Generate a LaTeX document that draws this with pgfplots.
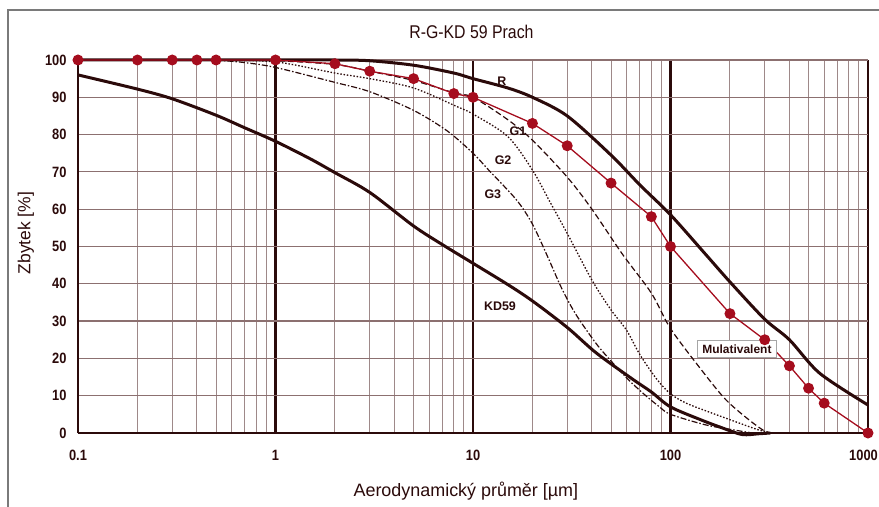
\documentclass[border=0pt]{standalone}
\usepackage{fontspec}
\setmainfont{Liberation Sans}
\newfontfamily\narrowfont{Liberation Sans}[FakeStretch=0.86]
\usepackage{pgfplots}
\pgfplotsset{compat=1.18}

\definecolor{axdark}{HTML}{2B0A0A}
\definecolor{gridc}{HTML}{8C7070}
\definecolor{minorc}{HTML}{9E8989}
\definecolor{redc}{HTML}{A50D1E}
\definecolor{framec}{HTML}{7A7A7A}

\begin{document}
\begin{tikzpicture}
\useasboundingbox (0bp,0bp) rectangle (879bp,507bp);
\draw[framec, line width=1.5bp] (8bp,0bp) -- (8bp,497bp) -- (879bp,497bp);
\begin{axis}[
  at={(78bp,74bp)}, anchor=south west,
  scale only axis, width=790bp, height=373bp,
  xmode=log, xmin=0.1, xmax=1000, ymin=0, ymax=100,
  clip=false,
  xtick={0.1,1,10,100,1000},
  xticklabels={0.1,1,10,100,{\kern-9bp 1000}},
  minor xtick={0.2,0.3,0.4,0.5,0.6,0.7,0.8,0.9,2,3,4,5,6,7,8,9,20,30,40,50,60,70,80,90,200,300,400,500,600,700,800,900},
  ytick={0,10,...,100},
  major tick length=0, minor tick length=0,
  xmajorgrids, xminorgrids, ymajorgrids,
  major x grid style={axdark, line width=2.5bp},
  minor x grid style={minorc, line width=1bp},
  major y grid style={gridc, line width=1.2bp},
  axis x line*=bottom, axis y line*=left,
  axis line style={axdark, line width=2.5bp, -},
  /pgf/number format/assume math mode=true,
  tick label style={font=\narrowfont\bfseries\fontsize{15}{15}\selectfont, text=axdark},
  xticklabel style={yshift=-14bp},
  yticklabel style={xshift=-8bp},
  title={R-G-KD 59 Prach},
  title style={at={(axis description cs:0.498,1.06)}, anchor=center, font=\narrowfont\fontsize{18.5}{18.5}\selectfont, text=axdark},
  xlabel={Aerodynamický průměr [µm]},
  xlabel style={at={(axis description cs:0.491,-0.155)}, anchor=center, font=\fontsize{18}{18}\selectfont, text=axdark},
  ylabel={Zbytek [\%]},
  ylabel style={at={(axis description cs:-0.066,0.536)}, anchor=center, rotate=0, font=\fontsize{17.5}{17.5}\selectfont, text=axdark},
]
% G3 (dash-dot)
\addplot[axdark, line width=1.2bp, smooth, dash pattern=on 6bp off 2bp on 1.5bp off 2bp] table {
0.5 100
0.7 99.3
1 98
2 94
3 91.5
5 86.5
7.4 81
10 75
12 70.5
16.6 62.5
20 56
24 47
28 39
33 32
42 24
51 18.8
62 14
75 10
88 7
100 5
150 2.2
210 0.8
260 0
};
% G2 (dotted)
\addplot[axdark, line width=1.3bp, smooth, dash pattern=on 1.5bp off 1.8bp] table {
0.5 100
1 99.5
2 96.5
3 95
5 92.5
8.3 87.5
10 85.5
15 79.5
20 70.5
24.5 62
30 53.5
40 41
50 33
60 27.5
70 21
85 14.5
100 10.5
120 8
150 6
190 4
280 0.8
330 0
};
% G1 (dashed)
\addplot[axdark, line width=1.2bp, smooth, dash pattern=on 6bp off 3bp] table {
0.5 100
1 99.8
2 98.8
3 97
5 94.5
8 91.2
10 90
15 84
20 78.5
30 68.6
40 60
57 48
80 37.5
100 28
143 17
190 9
250 3.5
300 0.5
330 0
};
% KD59
\addplot[axdark, line width=3bp, smooth] table {
0.1 96
0.2 92.2
0.3 89.6
0.5 85.2
0.7 81.8
1 78.2
1.5 73.5
2 69.8
3 64.5
5 55.5
7 50.5
10 45.5
15 39.8
20 35.4
30 28.3
42 21.5
64 14.5
80 11
100 7
143 3.5
180 1.5
230 -0.4
280 -0.2
320 0
};
% R
\addplot[axdark, line width=3bp, smooth] table {
0.1 100
1 100
2 100
3 99.8
5 98.6
8 96.5
10 95
15 92.5
20 90
30 85
50 74.5
70 66.5
100 58.5
150 48
200 40.5
300 30.5
400 25
570 16
1000 7.5
};
% Mulativalent
\addplot[redc, line width=1.3bp, mark=*, mark size=4.8bp, mark options={fill=redc, draw=redc}] table {
0.1 100
0.2 100
0.3 100
0.4 100
0.5 100
1 100
2 99
3 97
5 95
8 91
10 90
20 83
30 77
50 67
80 58
100 50
200 32
300 25
400 18
500 12
600 8
1000 0
};
\node[font=\bfseries\fontsize{12.5}{12.5}\selectfont, text=axdark] at (axis cs:14,94.4) {R};
\node[font=\bfseries\fontsize{12.5}{12.5}\selectfont, text=axdark] at (axis cs:16.9,81) {G1};
\node[font=\bfseries\fontsize{12.5}{12.5}\selectfont, text=axdark] at (axis cs:14.2,73.2) {G2};
\node[font=\bfseries\fontsize{12.5}{12.5}\selectfont, text=axdark] at (axis cs:12.6,64) {G3};
\node[font=\bfseries\fontsize{12.5}{12.5}\selectfont, text=axdark] at (axis cs:13.7,34) {KD59};
\node[draw=gray!70, line width=0.8bp, fill=white, font=\bfseries\fontsize{12}{12}\selectfont, text=axdark, inner xsep=5bp, inner ysep=4bp] at (axis cs:217,22.5) {Mulativalent};
\end{axis}
\end{tikzpicture}
\end{document}
